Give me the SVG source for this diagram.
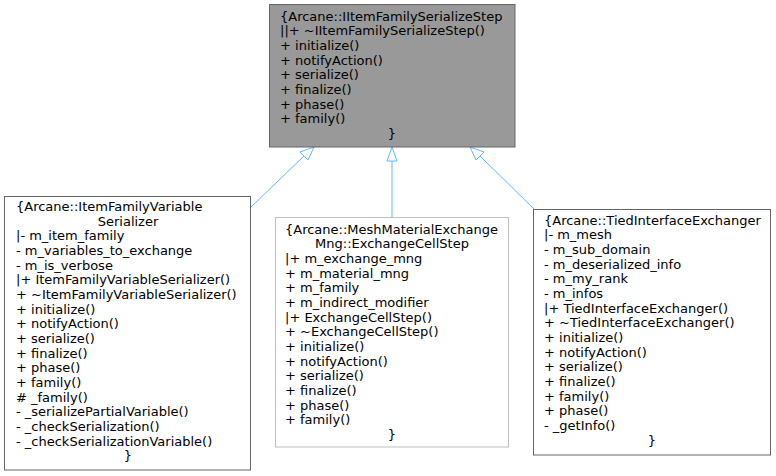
<svg xmlns="http://www.w3.org/2000/svg" width="776" height="476" viewBox="0 0 776 476">
<defs>
<style>
text{font-family:"DejaVu Sans","Liberation Sans",sans-serif;font-size:13px;fill:#000}
.c{text-anchor:middle}
.edge{stroke:#63b8ff;stroke-width:1;fill:none}
.head{stroke:#63b8ff;stroke-width:1;fill:#fff}
</style>
</defs>
<rect width="776" height="476" fill="#fff"/>
<g id="edges">
<path class="edge" d="M251,207L304,156"/>
<polygon class="head" points="314,147 300,152 308,160"/>
<path class="edge" d="M392,217L392,161"/>
<polygon class="head" points="392,147 387,161 397,161"/>
<path class="edge" d="M534,209L480,156"/>
<polygon class="head" points="470,147 476,160 484,152"/>
</g>
<g id="base">
<rect x="269.5" y="4.5" width="245.5" height="142.5" fill="#999999" stroke="#666666"/>
<text x="280" y="20.5">{Arcane::IItemFamilySerializeStep</text>
<text x="280" y="35.2">||+ ~IItemFamilySerializeStep()</text>
<text x="280" y="49.8">+ initialize()</text>
<text x="280" y="64.5">+ notifyAction()</text>
<text x="280" y="79.2">+ serialize()</text>
<text x="280" y="93.9">+ finalize()</text>
<text x="280" y="108.5">+ phase()</text>
<text x="280" y="123.2">+ family()</text>
<text class="c" x="392" y="137.9">}</text>
</g>
<g id="left">
<rect x="4.5" y="196.5" width="246" height="273.5" fill="#fff" stroke="#666666"/>
<text x="16" y="210.8">{Arcane::ItemFamilyVariable</text>
<text class="c" x="128" y="225.5">Serializer</text>
<text x="16" y="240.1">|- m_item_family</text>
<text x="16" y="254.8">- m_variables_to_exchange</text>
<text x="16" y="269.5">- m_is_verbose</text>
<text x="16" y="284.2">|+ ItemFamilyVariableSerializer()</text>
<text x="16" y="298.8">+ ~ItemFamilyVariableSerializer()</text>
<text x="16" y="313.5">+ initialize()</text>
<text x="16" y="328.2">+ notifyAction()</text>
<text x="16" y="342.8">+ serialize()</text>
<text x="16" y="357.5">+ finalize()</text>
<text x="16" y="372.2">+ phase()</text>
<text x="16" y="386.8">+ family()</text>
<text x="16" y="401.5"># _family()</text>
<text x="16" y="416.2">- _serializePartialVariable()</text>
<text x="16" y="430.9">- _checkSerialization()</text>
<text x="16" y="445.5">- _checkSerializationVariable()</text>
<text class="c" x="128" y="460.2">}</text>
</g>
<g id="middle">
<rect x="275.5" y="217.5" width="233" height="229.5" fill="#fff" stroke="#bfbfbf"/>
<text x="285" y="233.5">{Arcane::MeshMaterialExchange</text>
<text class="c" x="392" y="248.2">Mng::ExchangeCellStep</text>
<text x="285" y="262.8">|+ m_exchange_mng</text>
<text x="285" y="277.5">+ m_material_mng</text>
<text x="285" y="292.2">+ m_family</text>
<text x="285" y="306.8">+ m_indirect_modifier</text>
<text x="285" y="321.5">|+ ExchangeCellStep()</text>
<text x="285" y="336.2">+ ~ExchangeCellStep()</text>
<text x="285" y="350.9">+ initialize()</text>
<text x="285" y="365.5">+ notifyAction()</text>
<text x="285" y="380.2">+ serialize()</text>
<text x="285" y="394.9">+ finalize()</text>
<text x="285" y="409.5">+ phase()</text>
<text x="285" y="424.2">+ family()</text>
<text class="c" x="392" y="438.9">}</text>
</g>
<g id="right">
<rect x="533.5" y="209.5" width="237" height="245.5" fill="#fff" stroke="#666666"/>
<text x="544" y="224.5">{Arcane::TiedInterfaceExchanger</text>
<text x="544" y="239.2">|- m_mesh</text>
<text x="544" y="253.8">- m_sub_domain</text>
<text x="544" y="268.5">- m_deserialized_info</text>
<text x="544" y="283.2">- m_my_rank</text>
<text x="544" y="297.9">- m_infos</text>
<text x="544" y="312.5">|+ TiedInterfaceExchanger()</text>
<text x="544" y="327.2">+ ~TiedInterfaceExchanger()</text>
<text x="544" y="341.9">+ initialize()</text>
<text x="544" y="356.5">+ notifyAction()</text>
<text x="544" y="371.2">+ serialize()</text>
<text x="544" y="385.9">+ finalize()</text>
<text x="544" y="400.5">+ family()</text>
<text x="544" y="415.2">+ phase()</text>
<text x="544" y="429.9">- _getInfo()</text>
<text class="c" x="652" y="444.5">}</text>
</g>
</svg>
